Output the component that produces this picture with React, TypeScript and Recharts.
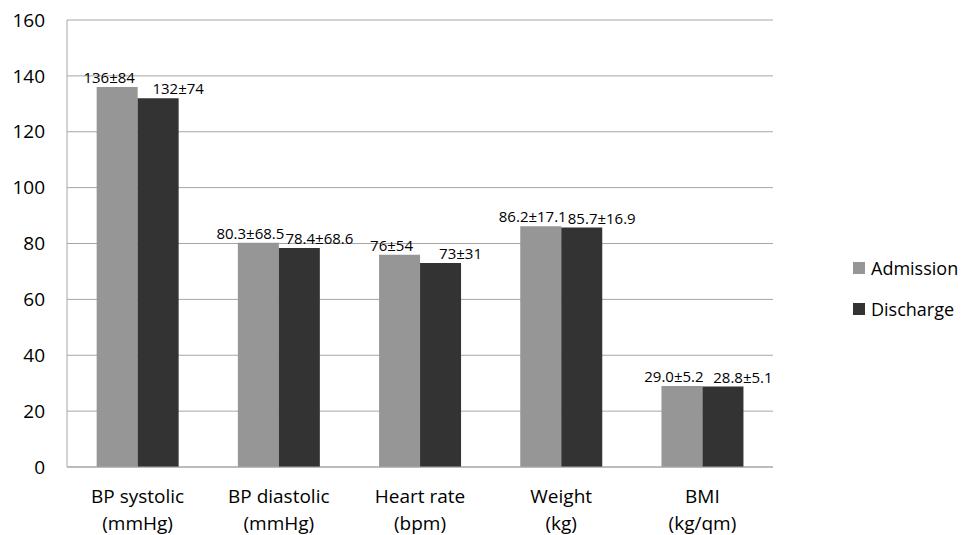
import React from "react";
import { BarChart, Bar, XAxis, YAxis, CartesianGrid, Legend, LabelList } from "recharts";

const categories = ["BP systolic|(mmHg)", "BP diastolic|(mmHg)", "Heart rate|(bpm)", "Weight|(kg)", "BMI|(kg/qm)"];
const admission = [136, 80.3, 76, 86.2, 29.0];
const discharge = [132, 78.4, 73, 85.7, 28.8];
const admissionLabels = ["136±84", "80.3±68.5", "76±54", "86.2±17.1", "29.0±5.2"];
const dischargeLabels = ["132±74", "78.4±68.6", "73±31", "85.7±16.9", "28.8±5.1"];
const yTicks = [0, 20, 40, 60, 80, 100, 120, 140, 160];

const data = categories.map((c, i) => ({
  name: c,
  admission: admission[i],
  discharge: discharge[i],
  aLabel: admissionLabels[i],
  dLabel: dischargeLabels[i],
}));

const FONT = "'Open Sans', sans-serif";
const C_ADM = "#969696";
const C_DIS = "#333333";
const C_GRID = "#a6a6a6";

const XTick = (props: any) => {
  const { x, y, payload } = props;
  const [l1, l2] = String(payload.value).split("|");
  return (
    <text x={x} y={y} textAnchor="middle" fontFamily={FONT} fontSize={19} fill="#000">
      <tspan x={x} dy={36}>{l1}</tspan>
      <tspan x={x} dy={27}>{l2}</tspan>
    </text>
  );
};

const makeLabel = (dx: number) => (props: any) => {
  const { x, y, width, value } = props;
  return (
    <text x={x + width / 2 + dx} y={y - 4} textAnchor="middle" fontFamily={FONT} fontSize={15} fill="#000">
      {value}
    </text>
  );
};

const LegendContent = () => (
  <div style={{ fontFamily: FONT, fontSize: 18, color: "#000", whiteSpace: "nowrap" }}>
    {[{ n: "Admission", c: C_ADM }, { n: "Discharge", c: C_DIS }].map((it, i) => (
      <div key={it.n} style={{ display: "flex", alignItems: "center", height: 26, marginBottom: i === 0 ? 15 : 0 }}>
        <span style={{ display: "inline-block", width: 12, height: 12, background: it.c, marginRight: 6 }} />
        <span>{it.n}</span>
      </div>
    ))}
  </div>
);

export default function App() {
  return (
    <div style={{ marginTop: -8, marginLeft: -8, width: 969, height: 535, background: "#fff", overflow: "hidden", position: "relative" }}>
      <BarChart
        width={969}
        height={535}
        data={data}
        margin={{ top: 20, right: 196, left: 0, bottom: 0 }}
        barGap={0}
        barCategoryGap="21%"
      >
        <CartesianGrid vertical={false} stroke={C_GRID} strokeWidth={1} />
        <XAxis
          dataKey="name"
          height={68}
          tickLine={false}
          tickSize={0}
          tickMargin={0}
          axisLine={{ stroke: C_GRID, strokeWidth: 1 }}
          tick={<XTick />}
          interval={0}
        />
        <YAxis
          width={67}
          domain={[0, 160]}
          ticks={yTicks}
          tickLine={false}
          tickSize={0}
          tickMargin={22}
          axisLine={{ stroke: C_GRID, strokeWidth: 1 }}
          tick={{ fontFamily: FONT, fontSize: 19, fill: "#000" }}
          interval={0}
        />
        <Legend
          layout="horizontal"
          align="center"
          verticalAlign="middle"
          content={<LegendContent />}
          wrapperStyle={{ left: 853, top: 255, width: 108 }}
        />
        <Bar dataKey="admission" name="Admission" fill={C_ADM} isAnimationActive={false}>
          <LabelList dataKey="aLabel" content={makeLabel(-8)} />
        </Bar>
        <Bar dataKey="discharge" name="Discharge" fill={C_DIS} isAnimationActive={false}>
          <LabelList dataKey="dLabel" content={makeLabel(20)} />
        </Bar>
      </BarChart>
    </div>
  );
}
